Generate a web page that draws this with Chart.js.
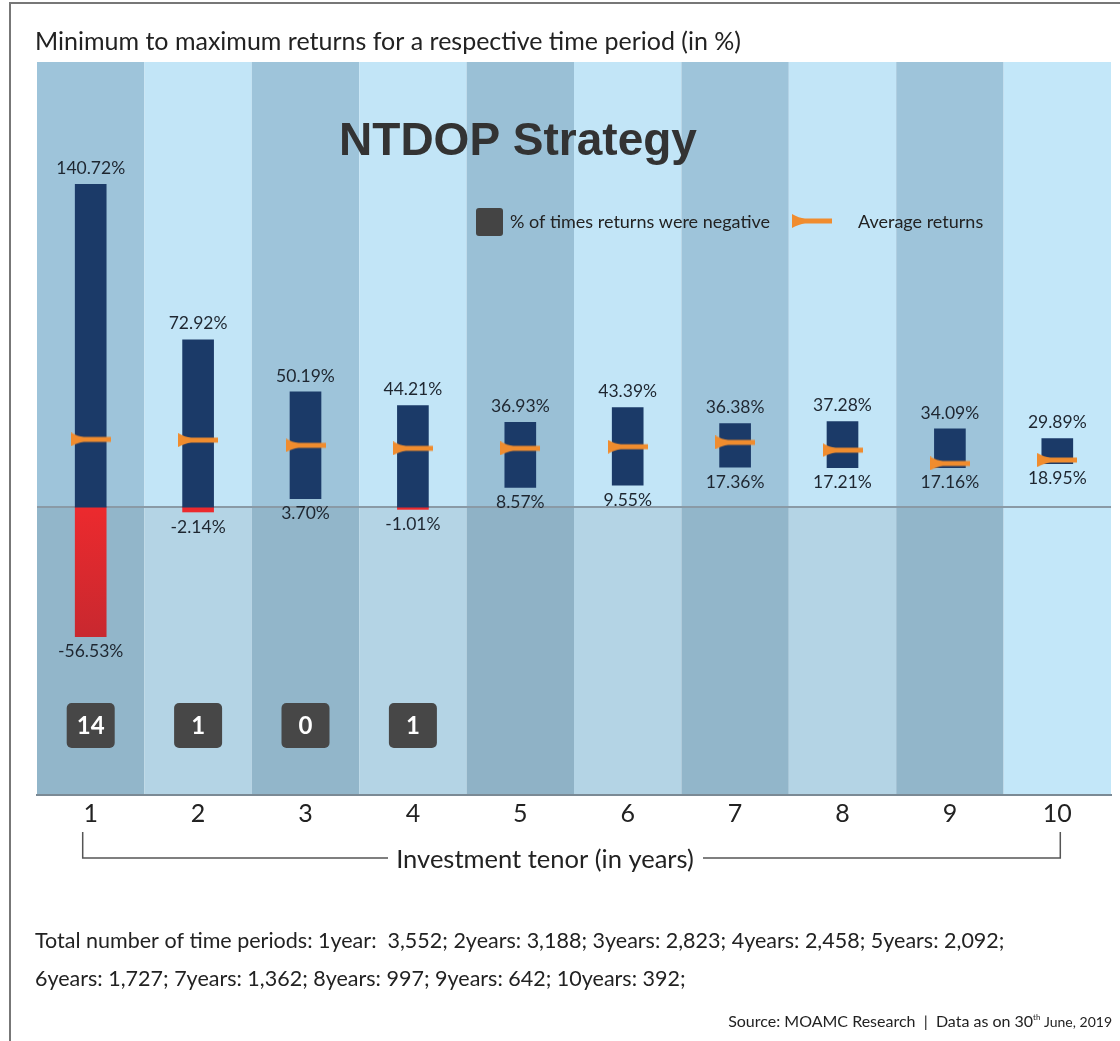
<!DOCTYPE html>
<html>
<head>
<meta charset="utf-8">
<script src="https://cdn.jsdelivr.net/npm/chart.js@4.4.1/dist/chart.umd.min.js"></script>
<style>
  body { margin: 0; background: #fff; }
  canvas { display: block; }
</style>
</head>
<body>
<canvas id="myChart" width="1120" height="1041"></canvas>
<script>
// data
const tenors = ['1', '2', '3', '4', '5', '6', '7', '8', '9', '10'];
const maxReturns = [140.72, 72.92, 50.19, 44.21, 36.93, 43.39, 36.38, 37.28, 34.09, 29.89];
const minReturns = [-56.53, -2.14, 3.70, -1.01, 8.57, 9.55, 17.36, 17.21, 17.16, 18.95];
const avgReturns = [29.5, 29.2, 26.9, 25.6, 25.6, 26.3, 28.2, 24.8, 19.0, 20.5];
const negativeCounts = [14, 1, 0, 1, null, null, null, null, null, null];
const columnColors = ['#9EC4DA', '#C2E5F7', '#9EC4DA', '#C2E5F7', '#9AC0D6', '#C2E5F7', '#9EC4DA', '#C2E5F7', '#9EC4DA', '#C3E7F9'];

const FONT = 'Lato, "Open Sans", sans-serif';
const ORANGE = '#F08C2E';
const NAVY = '#1B3A68';

// orange "average" marker, used as point style
function makeMarker() {
  const c = document.createElement('canvas');
  c.width = 40; c.height = 14;
  const g = c.getContext('2d');
  g.fillStyle = ORANGE;
  g.beginPath();
  g.moveTo(0, 0);
  g.quadraticCurveTo(7, 4, 13, 4.5);
  g.lineTo(40, 4.5);
  g.lineTo(40, 9.5);
  g.lineTo(13, 9.5);
  g.quadraticCurveTo(7, 10, 0, 14);
  g.closePath();
  g.fill();
  return c;
}
const marker = makeMarker();

function roundRect(ctx, x, y, w, h, r) {
  ctx.beginPath();
  ctx.moveTo(x + r, y);
  ctx.arcTo(x + w, y, x + w, y + h, r);
  ctx.arcTo(x + w, y + h, x, y + h, r);
  ctx.arcTo(x, y + h, x, y, r);
  ctx.arcTo(x, y, x + w, y, r);
  ctx.closePath();
}

const backdrop = {
  id: 'backdrop',
  beforeDraw(chart) {
    const ctx = chart.ctx, a = chart.chartArea, x = chart.scales.x, y = chart.scales.y;
    ctx.save();
    ctx.fillStyle = '#fff';
    ctx.fillRect(0, 0, chart.width, chart.height);
    const w = (a.right - a.left) / tenors.length;
    const zeroY = y.getPixelForValue(0);
    tenors.forEach((t, i) => {
      const cx = x.getPixelForValue(i);
      ctx.fillStyle = columnColors[i];
      ctx.fillRect(cx - w / 2, a.top, w, a.bottom - a.top);
      if (i < 9) {
        ctx.fillStyle = 'rgba(0,0,0,0.07)';
        ctx.fillRect(cx - w / 2, zeroY, w, a.bottom - zeroY);
      }
    });
    ctx.restore();
  },
  beforeDatasetsDraw(chart) {
    const ctx = chart.ctx, a = chart.chartArea, y = chart.scales.y;
    const zeroY = y.getPixelForValue(0);
    ctx.save();
    ctx.strokeStyle = '#8A9AA6';
    ctx.lineWidth = 2;
    ctx.beginPath();
    ctx.moveTo(a.left, zeroY);
    ctx.lineTo(a.right, zeroY);
    ctx.stroke();
    ctx.restore();
  },
  afterDraw(chart) {
    const ctx = chart.ctx, a = chart.chartArea, x = chart.scales.x, y = chart.scales.y;
    ctx.save();
    // frame
    ctx.strokeStyle = '#777';
    ctx.lineWidth = 2;
    ctx.beginPath();
    ctx.moveTo(10, chart.height);
    ctx.lineTo(10, 3);
    ctx.lineTo(chart.width, 3);
    ctx.stroke();

    ctx.textBaseline = 'middle';
    ctx.fillStyle = '#222';
    ctx.textAlign = 'left';
    ctx.font = '25px ' + FONT;
    ctx.fillText('Minimum to maximum returns for a respective time period (in %)', 35, 42);

    ctx.textAlign = 'center';
    ctx.fillStyle = '#333';
    ctx.font = 'bold 46px "Liberation Sans", Arial, sans-serif';
    ctx.fillText('NTDOP Strategy', 518, 142);

    // legend
    ctx.fillStyle = '#444';
    roundRect(ctx, 476, 208, 27, 28, 3);
    ctx.fill();
    ctx.fillStyle = '#222';
    ctx.textAlign = 'left';
    ctx.font = '18px ' + FONT;
    ctx.fillText('% of times returns were negative', 510, 222);
    ctx.drawImage(marker, 792, 214);
    ctx.fillText('Average returns', 858, 222);

    // value labels
    ctx.textAlign = 'center';
    ctx.font = '17.5px ' + FONT;
    ctx.fillStyle = '#1E2630';
    tenors.forEach((t, i) => {
      const cx = x.getPixelForValue(i);
      ctx.fillText(maxReturns[i].toFixed(2) + '%', cx, y.getPixelForValue(maxReturns[i]) - 16);
      ctx.fillText(minReturns[i].toFixed(2) + '%', cx, y.getPixelForValue(minReturns[i]) + 15);
    });

    // negative count boxes
    negativeCounts.forEach((n, i) => {
      if (n === null) return;
      const cx = x.getPixelForValue(i);
      const cy = y.getPixelForValue(-95);
      ctx.fillStyle = '#474747';
      roundRect(ctx, cx - 24, cy - 22, 48, 45, 5);
      ctx.fill();
      ctx.fillStyle = '#fff';
      ctx.font = 'bold 24px ' + FONT;
      ctx.fillText(String(n), cx, cy + 1);
    });

    // axis bracket
    const x1 = x.getPixelForValue(0) - 8, x2 = x.getPixelForValue(9) + 3;
    ctx.strokeStyle = '#555';
    ctx.lineWidth = 1.5;
    ctx.beginPath();
    ctx.moveTo(x1, 832); ctx.lineTo(x1, 858); ctx.lineTo(388, 858);
    ctx.moveTo(703, 858); ctx.lineTo(x2, 858); ctx.lineTo(x2, 832);
    ctx.stroke();
    ctx.fillStyle = '#222';
    ctx.font = '25.5px ' + FONT;
    ctx.fillText('Investment tenor (in years)', 545, 860);

    // footnotes
    ctx.textAlign = 'left';
    ctx.font = '21.5px ' + FONT;
    ctx.fillText('Total number of time periods: 1year:  3,552; 2years: 3,188; 3years: 2,823; 4years: 2,458; 5years: 2,092;', 35, 941);
    ctx.fillText('6years: 1,727; 7years: 1,362; 8years: 997; 9years: 642; 10years: 392;', 35, 979);

    ctx.textAlign = 'right';
    ctx.font = '14px ' + FONT;
    let rx = 1112;
    ctx.fillText(' June, 2019', rx, 1022);
    rx -= ctx.measureText(' June, 2019').width;
    ctx.font = '8px ' + FONT;
    ctx.fillText('th', rx, 1017);
    rx -= ctx.measureText('th').width;
    ctx.font = '16px ' + FONT;
    ctx.fillText('Source: MOAMC Research  |  Data as on 30', rx, 1022);
    ctx.restore();
  }
};

const ctx = document.getElementById('myChart').getContext('2d');
const myChart = new Chart(ctx, {
  type: 'bar',
  data: {
    labels: tenors,
    datasets: [{
      label: 'Average returns',
      type: 'line',
      data: avgReturns,
      showLine: false,
      pointStyle: marker,
      order: 0
    }, {
      label: 'Positive range',
      data: tenors.map((t, i) => [Math.max(minReturns[i], 0), maxReturns[i]]),
      backgroundColor: NAVY,
      barThickness: 31,
      grouped: false,
      order: 1
    }, {
      label: 'Negative range',
      data: tenors.map((t, i) => minReturns[i] < 0 ? [minReturns[i], 0] : null),
      backgroundColor: (c) => {
        const chart = c.chart;
        if (!chart.chartArea) return '#E0282E';
        const y = chart.scales.y;
        const g = chart.ctx.createLinearGradient(0, y.getPixelForValue(0), 0, y.getPixelForValue(-57));
        g.addColorStop(0, '#EC2A2E');
        g.addColorStop(1, '#C8282F');
        return g;
      },
      barThickness: 31,
      grouped: false,
      order: 1
    }]
  },
  options: {
    responsive: false,
    animation: false,
    layout: { padding: { left: 37, right: 9, top: 62, bottom: 206 } },
    scales: {
      x: {
        grid: { display: false },
        border: { color: '#7B8A95', width: 2 },
        ticks: { color: '#222', font: { family: FONT, size: 25, lineHeight: 1 }, padding: -2 },
        afterFit(s) { s.height = 40; }
      },
      y: { display: false, min: -125.5, max: 194 }
    },
    plugins: {
      legend: { display: false },
      tooltip: { enabled: false }
    }
  },
  plugins: [backdrop]
});
</script>
</body>
</html>
